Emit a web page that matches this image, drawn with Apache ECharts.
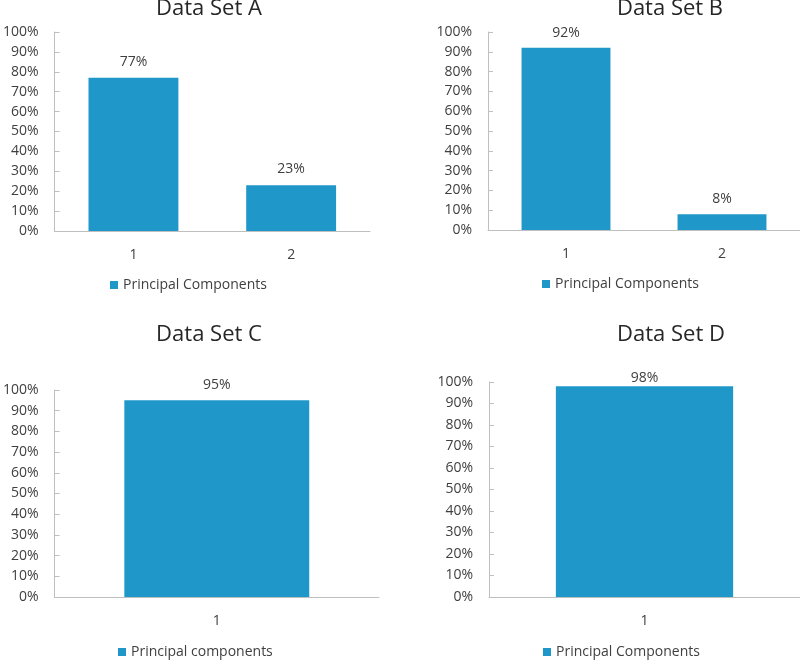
<!DOCTYPE html>
<html>
<head>
<meta charset="utf-8">
<script src="https://cdn.jsdelivr.net/npm/echarts@6/dist/echarts.min.js"></script>
<style>
  html, body { margin: 0; padding: 0; background: #fff; }
  #chart { width: 800px; height: 661px; }
</style>
</head>
<body>
<div id="chart"></div>
<script>
// ---- data ----
const titles = ['Data Set A', 'Data Set B', 'Data Set C', 'Data Set D'];
const seriesNames = ['Principal Components', 'Principal Components', 'Principal components', 'Principal Components'];
const categoriesA = ['1', '2'];
const categoriesB = ['1', '2'];
const categoriesC = ['1'];
const categoriesD = ['1'];
const valuesA = [77, 23];
const valuesB = [92, 8];
const valuesC = [95];
const valuesD = [98];
const yTicks = [0, 10, 20, 30, 40, 50, 60, 70, 80, 90, 100];

// ---- layout / style ----
const FONT = '"Open Sans", "Liberation Sans", sans-serif';
const TEXT = '#404040';
const AXIS = '#bfbfbf';
const BAR = '#1f98c9';

const grids = [
  { left: 52, top: 32, width: 318, height: 199 },
  { left: 488, top: 32, width: 312, height: 198 },
  { left: 52, top: 390, width: 327, height: 207 },
  { left: 489, top: 382, width: 311, height: 215 }
];
const cats = [categoriesA, categoriesB, categoriesC, categoriesD];
const vals = [valuesA, valuesB, valuesC, valuesD];
const titlePos = [
  { x: 209, y: 9 },
  { x: 670, y: 9 },
  { x: 209, y: 335 },
  { x: 671, y: 335 }
];
const legendPos = [
  { left: 110, top: 278 },
  { left: 542, top: 277 },
  { left: 118, top: 645 },
  { left: 543, top: 645 }
];
const labelDist = [9, 8, 8, 1];

const chart = echarts.init(document.getElementById('chart'), null, { renderer: 'canvas' });

const option = {
  animation: false,
  backgroundColor: '#ffffff',
  textStyle: { fontFamily: FONT },
  title: titles.map((t, i) => ({
    text: t,
    left: titlePos[i].x,
    top: titlePos[i].y,
    textAlign: 'center',
    textVerticalAlign: 'middle',
    padding: 0,
    textStyle: { fontFamily: FONT, fontSize: 22, fontWeight: 'normal', color: '#262626' }
  })),
  legend: seriesNames.map((n, i) => ({
    data: [{ name: n, icon: 'rect' }],
    left: legendPos[i].left,
    top: legendPos[i].top,
    padding: 0,
    itemWidth: 8,
    itemHeight: 8,
    itemGap: 5,
    selectedMode: false,
    textStyle: { fontFamily: FONT, fontSize: 14, color: TEXT, padding: [0, 0, 0, 0] }
  })),
  grid: grids.map(g => Object.assign({ containLabel: false }, g)),
  xAxis: cats.map((c, i) => ({
    type: 'category',
    gridIndex: i,
    data: c,
    axisLine: { lineStyle: { color: AXIS, width: 1 } },
    axisTick: { show: false },
    axisLabel: { fontFamily: FONT, fontSize: 14, color: TEXT, margin: 17 },
    splitLine: { show: false }
  })),
  yAxis: cats.map((c, i) => ({
    type: 'value',
    gridIndex: i,
    min: yTicks[0],
    max: yTicks[yTicks.length - 1],
    interval: yTicks[1] - yTicks[0],
    axisLine: { show: true, lineStyle: { color: AXIS, width: 1 } },
    axisTick: { show: true, inside: true, length: 5, lineStyle: { color: AXIS } },
    axisLabel: { fontFamily: FONT, fontSize: 14, color: TEXT, margin: 16, formatter: '{value}%' },
    splitLine: { show: false }
  })),
  series: vals.map((v, i) => ({
    type: 'bar',
    name: seriesNames[i],
    xAxisIndex: i,
    yAxisIndex: i,
    data: v,
    barWidth: '57%',
    itemStyle: { color: BAR },
    label: {
      show: true,
      position: 'top',
      distance: labelDist[i],
      formatter: '{c}%',
      fontFamily: FONT,
      fontSize: 14,
      color: TEXT
    }
  }))
};

chart.setOption(option);
</script>
</body>
</html>
